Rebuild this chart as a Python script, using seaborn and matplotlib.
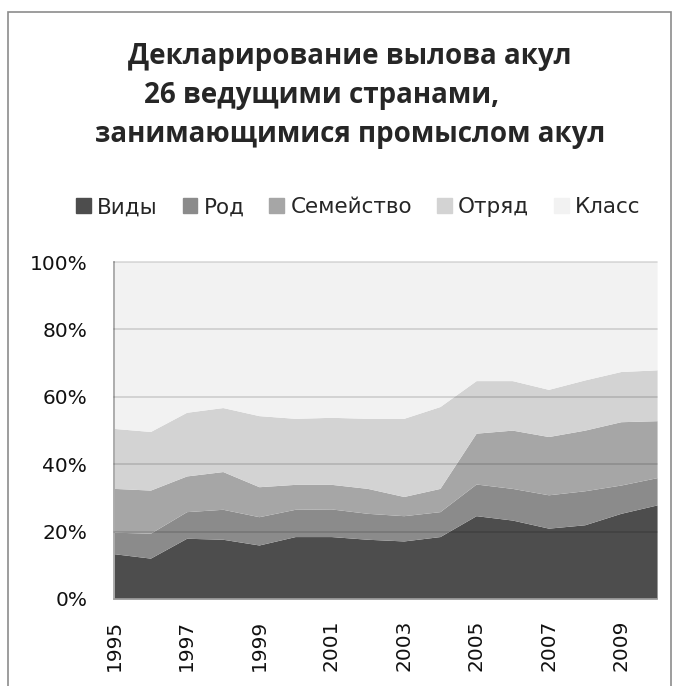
import matplotlib
matplotlib.use("Agg")
import matplotlib.pyplot as plt
import matplotlib.patches as mpatches
import numpy as np
import seaborn as sns

years = list(range(1995, 2011))
species = [13.4, 12.1, 18.0, 17.7, 16.0, 18.5, 18.5, 17.7, 17.2, 18.5, 24.7, 23.4, 21.0, 22.0, 25.4, 27.9]
genus = [6.4, 7.4, 7.9, 8.9, 8.4, 8.1, 8.2, 7.7, 7.5, 7.4, 9.4, 9.4, 9.9, 10.1, 8.4, 8.1]
family = [13.0, 12.8, 10.6, 11.2, 8.9, 7.4, 7.3, 7.4, 5.7, 6.9, 15.1, 17.3, 17.3, 18.0, 18.8, 16.9]
order = [17.8, 17.4, 18.9, 19.0, 21.1, 19.6, 19.9, 20.8, 23.2, 24.3, 15.6, 14.7, 14.0, 14.9, 14.9, 15.1]
klass = [49.4, 50.3, 44.6, 43.2, 45.6, 46.4, 46.1, 46.4, 46.4, 42.9, 35.2, 35.2, 37.8, 35.0, 32.5, 32.0]

labels = ["Виды", "Род", "Семейство", "Отряд", "Класс"]
colors = ["#4d4d4d", "#8b8b8b", "#a6a6a6", "#d3d3d3", "#f2f2f2"]
title = "Декларирование вылова акул\n26 ведущими странами,        \nзанимающимися промыслом акул"
ytick_vals = [0, 20, 40, 60, 80, 100]

sns.set_theme(style="white")
plt.rcParams['font.family'] = ['DejaVu Sans']

# 100% stacked shares
data = np.array([species, genus, family, order, klass], dtype=float)
data = data / data.sum(axis=0) * 100

fig = plt.figure(figsize=(6.76, 6.86), dpi=100)
ax = fig.add_axes([0.169, 0.127, 0.803, 0.491])

ax.stackplot(years, data, colors=colors, labels=labels, linewidth=0)

ax.set_xlim(years[0], years[-1])
ax.set_ylim(0, 100)
for yv in ytick_vals[1:]:
    ax.axhline(yv, color="black", alpha=0.15, linewidth=1.2, zorder=5, clip_on=False)

ax.set_yticks(ytick_vals)
ax.set_yticklabels([f"{v}%" for v in ytick_vals], fontsize=14.5, color="#111111")
ax.set_xticks(years[::2])
ax.set_xticklabels([str(y) for y in years[::2]], rotation=90, fontsize=14.5, color="#111111")
ax.tick_params(axis="y", pad=19.5, length=0)
ax.tick_params(axis="x", pad=15, length=0)
for s in ax.spines.values():
    s.set_color("#a0a0a0")
    s.set_linewidth(1.2)
ax.spines["top"].set_visible(False)
ax.spines["right"].set_visible(False)

handles = [mpatches.Patch(color=c, label=l) for c, l in zip(colors, labels)]
fig.legend(handles=handles, loc="center", bbox_to_anchor=(0.53, 0.698), ncol=5,
           frameon=False, fontsize=15.5, handlelength=0.68, handleheight=0.68,
           handletextpad=0.3, columnspacing=1.15, borderaxespad=0, borderpad=0)

fig.text(0.518, 0.861, title, ha="center", va="center", fontsize=20,
         fontweight="bold", linespacing=1.44, family=["Open Sans", "DejaVu Sans"])

# chart border
fig.patches.append(mpatches.Rectangle((0.012, -0.02), 0.981, 1.0025, transform=fig.transFigure,
                                      fill=False, edgecolor="#8c8c8c", linewidth=1.2))

fig.savefig("out.png", dpi=100)
